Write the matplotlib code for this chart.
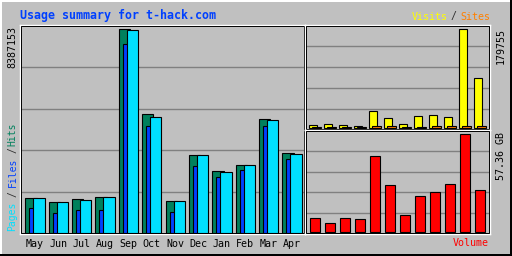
import matplotlib
matplotlib.use("Agg")
import matplotlib.pyplot as plt
from matplotlib.patches import Rectangle
from matplotlib.lines import Line2D
import numpy as np

# monthly usage summary
months = ["May", "Jun", "Jul", "Aug", "Sep", "Oct", "Nov", "Dec", "Jan", "Feb", "Mar", "Apr"]
hits = [1428700, 1264000, 1387600, 1469900, 8387153, 4887400,
        1305200, 3199200, 2540400, 2787500, 4681500, 3281600]
files = [1017000, 811100, 947000, 947000, 7769500, 4405600,
         852300, 2746300, 2293400, 2581600, 4405600, 3034500]
pages = [1428700, 1264000, 1346400, 1469900, 8346000, 4763800,
         1305200, 3199200, 2499300, 2787500, 4640300, 3240400]
visits = [4400, 6200, 4400, 2600, 30000, 17200, 6200, 20800, 22700, 19000, 179755, 90200]
sites = [2100, 2000, 1900, 1700, 2300, 2200, 2000, 2100, 2200, 2300, 2600, 2400]
volume_gb = [8.19, 5.27, 8.19, 7.61, 44.48, 27.51, 9.95, 21.07, 23.41, 28.09, 57.36, 24.58]

title = "Usage summary for t-hack.com"
max_hits_txt = "8387153"
max_visits_txt = "179755"
max_volume_txt = "57.36 GB"

BG = "#C0C0C0"
GRID = "#808080"
C_HITS = "#00805C"
C_FILES = "#0040FF"
C_PAGES = "#00E0FF"
C_VISITS = "#FFFF00"
C_SITES = "#FF8000"
C_VOLUME = "#FF0000"

W, H = 512, 256
fig = plt.figure(figsize=(W / 100, H / 100), dpi=100)
fig.patch.set_facecolor(BG)


def fx(x):
    return x / W


def fy(y):
    return 1 - y / H


def panel(x0, y0, x1, y1, vmax, base_px, bar_px, px_per_unit, first_px):
    ax = fig.add_axes([fx(x0), fy(y1), (x1 - x0) / W, (y1 - y0) / H])
    ax.set_facecolor(BG)
    hpx = y1 - y0
    unit = vmax / bar_px
    lo, hi = -base_px * unit, (hpx - base_px) * unit
    ax.set_ylim(lo, hi)
    xlo = -(first_px - x0) / px_per_unit
    ax.set_xlim(xlo, xlo + (x1 - x0) / px_per_unit)
    ax.set_yticks([lo + (hi - lo) * k / 5 for k in range(1, 5)])
    ax.grid(axis="y", color=GRID, lw=1.0, zorder=0)
    ax.set_axisbelow(True)
    ax.tick_params(left=False, labelleft=False, bottom=False, labelbottom=False)
    for s in ax.spines.values():
        s.set_color("white")
        s.set_linewidth(1.0)
    dx, dy = 1.2 / (x1 - x0), 1.2 / hpx
    ax.add_patch(Rectangle((dx, dy), 1 - 2 * dx, 1 - 2 * dy, transform=ax.transAxes,
                           fill=False, ec="black", lw=0.7, zorder=5, clip_on=False))
    return ax


x = np.arange(len(months))

# main panel: hits / files / pages
ax1 = panel(20, 25, 305, 234, max(hits), 1.5, 203.2, 23.37, 34.95)
off, bw = 4 / 23.37, 11.3 / 23.37
ax1.bar(x - off, hits, bw, color=C_HITS, ec="black", lw=0.8, zorder=2)
ax1.bar(x, files, bw, color=C_FILES, ec="black", lw=0.8, zorder=3)
ax1.bar(x + off, pages, bw, color=C_PAGES, ec="black", lw=0.8, zorder=4)
ax1.set_xticks(x, months)
ax1.tick_params(labelbottom=True, length=0, pad=3.5)
for lab in ax1.get_xticklabels():
    lab.set_fontfamily("DejaVu Sans Mono")
    lab.set_fontsize(7.2)

# top right: visits / sites
ax2 = panel(305, 25, 490, 130, max(visits), 2.3, 98.4, 15, 315)
ax2.bar(x - 0.14, visits, 0.52, color=C_VISITS, ec="black", lw=0.8, zorder=2)
ax2.bar(x + 0.11, sites, 0.58, color=C_SITES, ec="black", lw=0.8, zorder=3)

# bottom right: volume
ax3 = panel(305, 130, 490, 234, max(volume_gb), 1.7, 98, 15, 315)
ax3.bar(x, volume_gb, 10 / 15, color=C_VOLUME, ec="black", lw=0.8, zorder=2)

mono = "DejaVu Sans Mono"
fig.text(fx(20), fy(15), title, color="#0040FF", fontsize=8.4, fontweight="bold",
         family=mono, ha="left", va="center")
fig.text(fx(12.5), fy(26.5), max_hits_txt, rotation=90, fontsize=7.2, family=mono,
         ha="center", va="top")
fig.text(fx(500.5), fy(27.5), max_visits_txt, rotation=90, fontsize=7.2, family=mono,
         ha="center", va="top")
fig.text(fx(500.5), fy(131.5), max_volume_txt, rotation=90, fontsize=7.2, family=mono,
         ha="center", va="top")
fig.text(fx(489), fy(243), "Volume", color=C_VOLUME, fontsize=7.2, family=mono,
         ha="right", va="center")

# legend words on the left, rotated
for word, col, yc in [("Pages", C_PAGES, 216.7), ("/", "#303030", 194),
                      ("Files", C_FILES, 172.5), ("/", "#303030", 150.5),
                      ("Hits", C_HITS, 134)]:
    fig.text(fx(12.5), fy(yc), word, color=col, rotation=90, fontsize=7.0, family=mono,
             ha="center", va="center")

# legend words top right
fig.text(fx(447.7), fy(16.5), "Visits", color=C_VISITS, fontsize=7.2, family=mono,
         ha="right", va="center")
fig.text(fx(453.5), fy(16.5), "/", color="#303030", fontsize=7.2, family=mono,
         ha="center", va="center")
fig.text(fx(490), fy(16.5), "Sites", color=C_SITES, fontsize=7.2, family=mono,
         ha="right", va="center")

# raised outer border
fig.add_artist(Line2D([0, 1], [fy(1), fy(1)], color="white", lw=1.44, transform=fig.transFigure))
fig.add_artist(Line2D([fx(1), fx(1)], [0, 1], color="white", lw=1.44, transform=fig.transFigure))
fig.add_artist(Line2D([0, 1], [fy(255), fy(255)], color="black", lw=1.44, transform=fig.transFigure))
fig.add_artist(Line2D([fx(511), fx(511)], [0, 1], color="black", lw=1.44, transform=fig.transFigure))

fig.savefig("out.png", dpi=100, facecolor=BG)
